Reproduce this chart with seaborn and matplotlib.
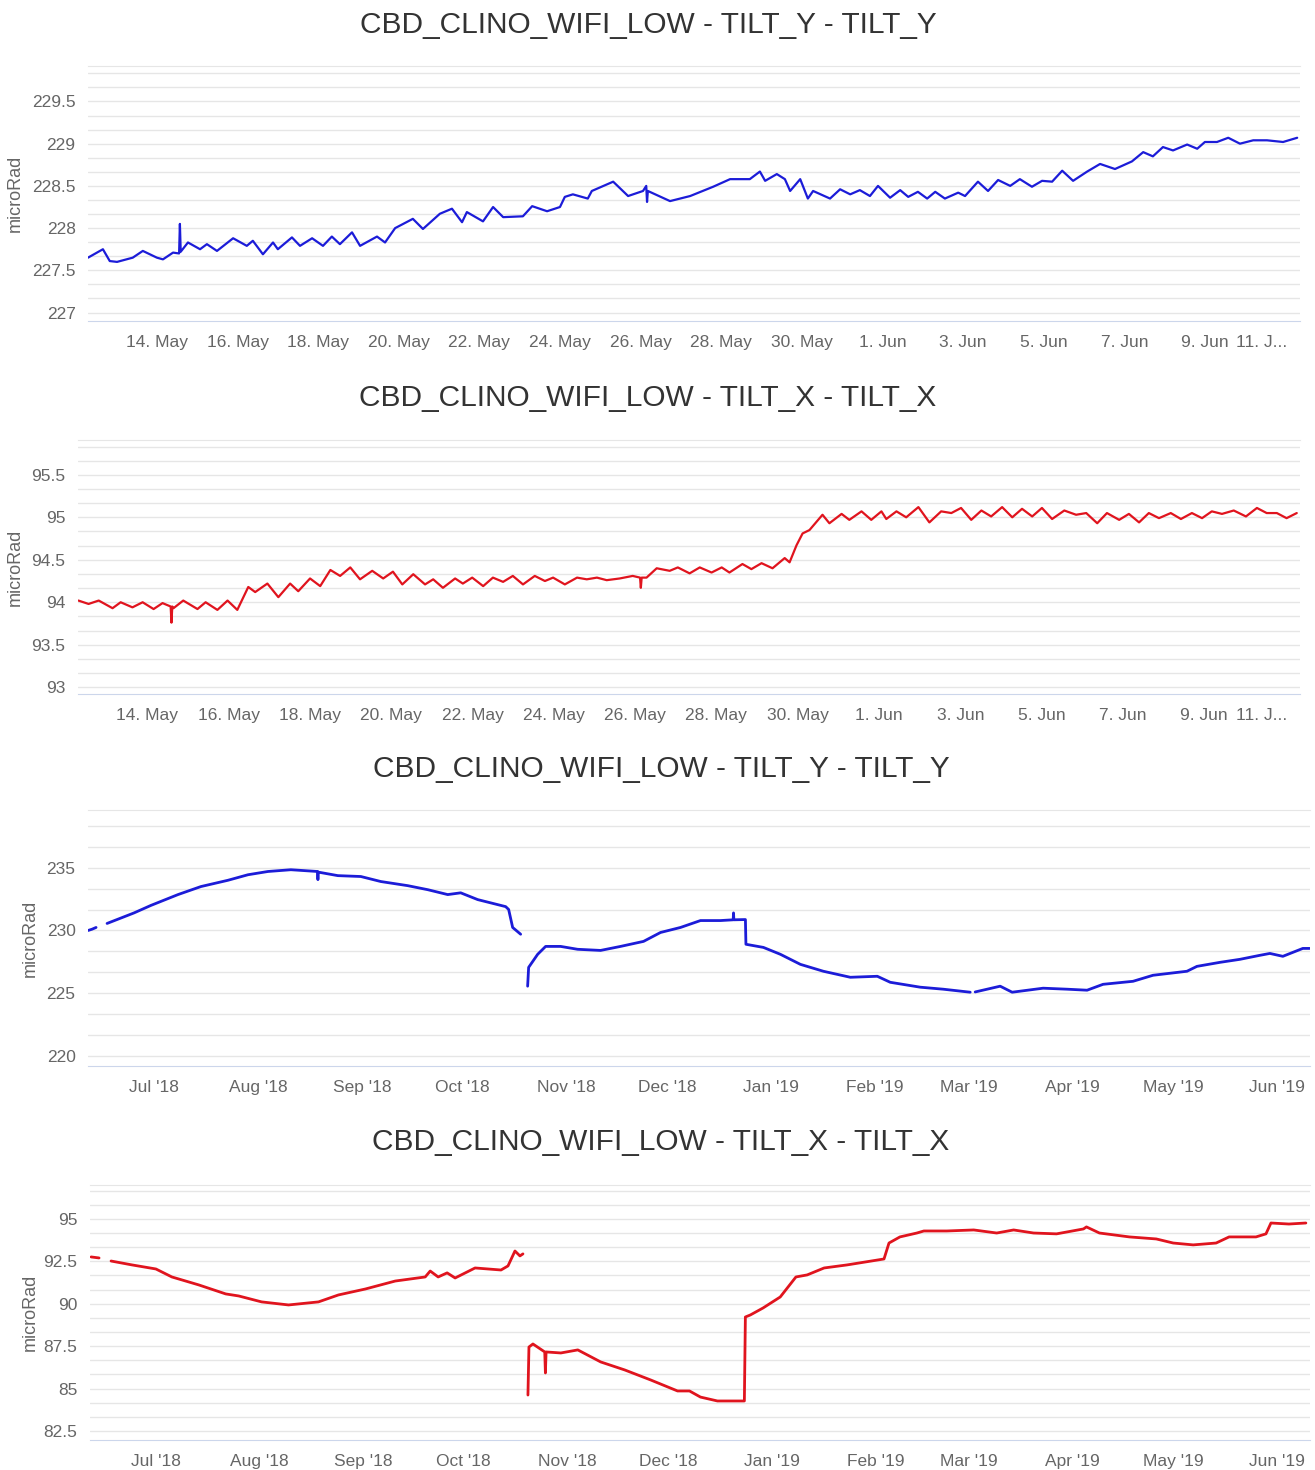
import pandas as pd
import seaborn as sns
import matplotlib.pyplot as plt
from matplotlib.ticker import MultipleLocator, FuncFormatter
from matplotlib.transforms import ScaledTranslation

TITLE_Y = "CBD_CLINO_WIFI_LOW - TILT_Y - TILT_Y"
TITLE_X = "CBD_CLINO_WIFI_LOW - TILT_X - TILT_X"
BLUE = "#1c1cd8"
RED = "#e0141e"

# --- short window: days after 2019-05-12 00:00 ---
month_start = "2019-05-12"

p1_days = [0.29, 0.66, 0.83, 1.01, 1.40, 1.65, 2.00, 2.15, 2.40, 2.55, 2.57, 2.59, 2.77, 3.07, 3.24, 3.49,
           3.89, 4.23, 4.38, 4.63, 4.88, 5.00, 5.35, 5.55, 5.85, 6.12, 6.34, 6.54, 6.84, 7.04, 7.46, 7.66,
           7.91, 8.35, 8.60, 9.02, 9.32, 9.57, 9.69, 10.09, 10.34, 10.59, 11.08, 11.31, 11.68, 12.00,
           12.12, 12.32, 12.69, 12.79, 13.32, 13.69, 14.06, 14.14, 14.16, 14.18, 14.73, 15.23, 15.80,
           16.22, 16.71, 16.96, 17.09, 17.38, 17.58, 17.71, 17.96, 18.15, 18.28, 18.70, 18.95, 19.20,
           19.44, 19.69, 19.89, 20.19, 20.44, 20.64, 20.88, 21.11, 21.31, 21.55, 21.88, 22.05, 22.37,
           22.62, 22.87, 23.17, 23.41, 23.71, 23.96, 24.21, 24.46, 24.73, 25.08, 25.40, 25.77, 26.19,
           26.47, 26.71, 26.96, 27.21, 27.56, 27.81, 28.00, 28.30, 28.58, 28.87, 29.20, 29.54, 29.94, 30.29]
p1_vals = [227.65, 227.75, 227.61, 227.60, 227.65, 227.73, 227.65, 227.63, 227.71, 227.70, 228.05, 227.72,
           227.83, 227.75, 227.81, 227.73, 227.88, 227.79, 227.85, 227.69, 227.83, 227.75, 227.89, 227.79,
           227.88, 227.79, 227.90, 227.81, 227.95, 227.79, 227.90, 227.83, 228.00, 228.11, 227.99, 228.17,
           228.23, 228.07, 228.19, 228.08, 228.25, 228.13, 228.14, 228.26, 228.20, 228.25, 228.37, 228.40,
           228.35, 228.44, 228.55, 228.38, 228.44, 228.50, 228.31, 228.44, 228.32, 228.38, 228.49, 228.58,
           228.58, 228.67, 228.56, 228.64, 228.58, 228.44, 228.58, 228.35, 228.44, 228.35, 228.46, 228.40,
           228.45, 228.38, 228.50, 228.36, 228.45, 228.37, 228.43, 228.35, 228.43, 228.35, 228.42, 228.38,
           228.55, 228.44, 228.57, 228.50, 228.58, 228.49, 228.56, 228.55, 228.68, 228.56, 228.67, 228.76,
           228.70, 228.79, 228.90, 228.85, 228.96, 228.92, 228.99, 228.94, 229.02, 229.02, 229.07, 229.00,
           229.04, 229.04, 229.02, 229.07]

p2_days = [0.30, 0.55, 0.80, 1.14, 1.34, 1.63, 1.88, 2.15, 2.37, 2.57, 2.59, 2.61, 2.64, 2.88, 3.23, 3.43,
           3.72, 3.97, 4.21, 4.48, 4.65, 4.95, 5.22, 5.51, 5.71, 6.00, 6.25, 6.50, 6.74, 6.99, 7.23, 7.53,
           7.80, 8.04, 8.27, 8.54, 8.83, 9.03, 9.27, 9.57, 9.76, 9.99, 10.26, 10.50, 10.75, 10.99, 11.24,
           11.53, 11.78, 11.98, 12.27, 12.57, 12.81, 13.06, 13.30, 13.62, 13.94, 14.12, 14.14, 14.16,
           14.28, 14.53, 14.85, 15.05, 15.34, 15.59, 15.88, 16.13, 16.32, 16.64, 16.86, 17.11, 17.38,
           17.68, 17.80, 17.97, 18.12, 18.29, 18.61, 18.78, 19.08, 19.27, 19.57, 19.81, 20.06, 20.18,
           20.43, 20.67, 20.97, 21.24, 21.53, 21.78, 22.02, 22.27, 22.52, 22.76, 23.03, 23.28, 23.52,
           23.77, 24.01, 24.26, 24.56, 24.85, 25.10, 25.37, 25.61, 25.91, 26.15, 26.40, 26.64, 26.89,
           27.18, 27.43, 27.70, 27.95, 28.19, 28.44, 28.73, 29.03, 29.30, 29.54, 29.79, 30.03, 30.28]
p2_vals = [94.02, 93.98, 94.02, 93.93, 94.00, 93.94, 94.00, 93.92, 93.99, 93.95, 93.76, 93.95, 93.93, 94.02,
           93.92, 94.00, 93.91, 94.02, 93.91, 94.18, 94.12, 94.22, 94.06, 94.22, 94.13, 94.28, 94.19, 94.38,
           94.31, 94.41, 94.27, 94.37, 94.28, 94.36, 94.21, 94.33, 94.21, 94.27, 94.17, 94.28, 94.22, 94.29,
           94.19, 94.29, 94.24, 94.31, 94.21, 94.31, 94.25, 94.29, 94.21, 94.29, 94.27, 94.29, 94.26, 94.28,
           94.31, 94.29, 94.17, 94.29, 94.29, 94.40, 94.37, 94.41, 94.34, 94.41, 94.35, 94.41, 94.35, 94.45,
           94.39, 94.46, 94.40, 94.52, 94.47, 94.67, 94.81, 94.85, 95.03, 94.93, 95.04, 94.97, 95.07, 94.97,
           95.07, 94.98, 95.07, 95.00, 95.12, 94.94, 95.07, 95.05, 95.11, 94.97, 95.08, 95.01, 95.12, 95.00,
           95.10, 95.01, 95.11, 94.98, 95.08, 95.03, 95.05, 94.93, 95.05, 94.97, 95.04, 94.94, 95.05, 94.99,
           95.05, 94.98, 95.05, 94.99, 95.07, 95.04, 95.08, 95.01, 95.11, 95.05, 95.05, 94.99, 95.05]

short_xlim = (0.29, 30.36)
short_ticks = ["2019-05-14", "2019-05-16", "2019-05-18", "2019-05-20", "2019-05-22", "2019-05-24",
               "2019-05-26", "2019-05-28", "2019-05-30", "2019-06-01", "2019-06-03", "2019-06-05",
               "2019-06-07", "2019-06-09", "2019-06-11"]
short_labels = ["14. May", "16. May", "18. May", "20. May", "22. May", "24. May", "26. May", "28. May",
                "30. May", "1. Jun", "3. Jun", "5. Jun", "7. Jun", "9. Jun", "11. J..."]

# --- long window: days after 2018-06-11 00:00, seg = separate line pieces ---
year_start = "2018-06-11"

p3_seg = [0] * 3 + [1] * 25 + [2] * 28 + [3] * 18
p3_days = [0.33, 1.5, 2.71,
           5.99, 14.04, 19.1, 27.15, 34.0, 42.06, 48.02, 53.98, 60.83, 68.8, 68.9, 69.0, 74.84, 81.7,
           87.66, 95.71, 101.67, 107.63, 111.5, 116.57, 121.34, 124.92, 125.81, 127.0, 129.39,
           131.47, 131.77, 134.46, 136.84, 141.31, 146.38, 153.23, 159.2, 166.05, 171.12, 177.08, 183.04,
           189.0, 192.8, 192.9, 193.0, 196.45, 196.6, 201.82, 206.89, 212.85, 219.7, 227.75, 235.8,
           239.67, 248.61, 255.47, 263.52,
           265.0, 272.46, 276.03, 285.28, 292.43, 298.39, 303.16, 312.1, 318.06, 328.19, 331.17, 338.03,
           343.99, 349.95, 352.93, 356.8, 362.76, 364.8]
p3_vals = [230.0, 230.1, 230.24,
           230.56, 231.4, 232.0, 232.86, 233.5, 234.0, 234.44, 234.7, 234.84, 234.7, 234.05, 234.65,
           234.37, 234.3, 233.9, 233.57, 233.25, 232.86, 233.0, 232.46, 232.14, 231.9, 231.67, 230.24, 229.7,
           225.56, 227.06, 228.1, 228.73, 228.73, 228.5, 228.41, 228.73, 229.13, 229.84, 230.24, 230.79,
           230.79, 230.85, 231.4, 230.85, 230.87, 228.9, 228.65, 228.1, 227.3, 226.75, 226.27, 226.35,
           225.87, 225.48, 225.32, 225.08,
           225.1, 225.56, 225.08, 225.4, 225.32, 225.24, 225.71, 225.95, 226.43, 226.75, 227.14, 227.46,
           227.7, 228.02, 228.17, 227.94, 228.57, 228.57]

p4_seg = [0] * 2 + [1] * 24 + [2] * 49
p4_days = [0.63, 3.01,
           6.59, 12.85, 20.0, 24.77, 32.82, 40.86, 44.74, 51.59, 59.64, 68.58, 74.55, 82.59, 91.53, 100.48,
           101.97, 104.35, 107.03, 109.42, 115.38, 123.13, 125.22, 127.3, 128.79, 129.69,
           131.18, 131.48, 132.67, 136.2, 136.4, 136.6, 141.01, 146.08, 152.93, 160.09, 167.84, 175.89,
           179.46, 182.74, 187.81, 195.86, 196.16, 197.65, 201.43, 206.58, 211.27, 214.63, 219.7, 226.56,
           237.59, 239.08, 242.35, 247.42, 249.5, 256.36, 264.41, 271.27, 276.33, 282.29, 289.15, 297.2,
           298.09, 301.97, 310.91, 318.96, 324.02, 329.99, 336.84, 340.72, 348.76, 351.74, 353.23, 358.6,
           363.67]
p4_vals = [92.76, 92.70,
           92.52, 92.29, 92.05, 91.58, 91.11, 90.58, 90.46, 90.11, 89.93, 90.11, 90.52, 90.87, 91.34, 91.58,
           91.93, 91.58, 91.82, 91.52, 92.11, 91.99, 92.23, 93.11, 92.82, 92.94,
           84.62, 87.45, 87.63, 87.16, 85.92, 87.16, 87.1, 87.28, 86.57, 86.1, 85.51, 84.86,
           84.86, 84.5, 84.27, 84.27, 89.22, 89.34, 89.75, 90.4, 91.58, 91.7, 92.11, 92.29,
           92.64, 93.58, 93.94, 94.17, 94.29, 94.29, 94.35, 94.17, 94.35, 94.17, 94.12, 94.41,
           94.53, 94.17, 93.94, 93.82, 93.58, 93.47, 93.58, 93.94, 93.94, 94.12, 94.76, 94.70,
           94.76]

long_xlim = (0.3, 364.9)
long_ticks = ["2018-07-01", "2018-08-01", "2018-09-01", "2018-10-01", "2018-11-01", "2018-12-01",
              "2019-01-01", "2019-02-01", "2019-03-01", "2019-04-01", "2019-05-01", "2019-06-01"]
long_labels = ["Jul '18", "Aug '18", "Sep '18", "Oct '18", "Nov '18", "Dec '18", "Jan '19", "Feb '19",
               "Mar '19", "Apr '19", "May '19", "Jun '19"]

sns.set_style("white")
plt.rcParams["font.family"] = ["Liberation Sans", "DejaVu Sans"]

W, H = 1315, 1470
fig = plt.figure(figsize=(W / 100, H / 100), dpi=100)


def to_time(start, days):
    return pd.Timestamp(start) + pd.to_timedelta(pd.Series(days, dtype=float), unit="D")


def panel(box, title, title_pos, ylab_x, start, days, vals, seg, color, lw,
          ylim, ystep, xlim, ticks, labels, truncate_last=False):
    left, right, top, bottom = box
    ax = fig.add_axes([left / W, 1 - bottom / H, (right - left) / W, (bottom - top) / H])
    df = pd.DataFrame({"time": to_time(start, days), "value": vals, "seg": seg})
    sns.lineplot(data=df, x="time", y="value", units="seg", estimator=None, sort=False,
                 color=color, lw=lw, ax=ax)
    ax.set_xlim(pd.Timestamp(start) + pd.Timedelta(days=xlim[0]),
                pd.Timestamp(start) + pd.Timedelta(days=xlim[1]))
    ax.set_ylim(*ylim)
    ax.yaxis.set_major_locator(MultipleLocator(ystep))
    ax.yaxis.set_minor_locator(MultipleLocator(ystep / 3))
    ax.yaxis.set_major_formatter(FuncFormatter(lambda v, _: f"{v:g}"))
    ax.grid(axis="y", which="both", color="#e6e6e6", lw=1)
    ax.grid(axis="x", visible=False)
    ax.set_xticks(pd.to_datetime(ticks))
    ax.set_xticklabels(labels)
    ax.tick_params(axis="y", which="both", length=0, pad=9, labelsize=12.5, labelcolor="#666666")
    ax.tick_params(axis="x", length=6, width=1, color="#ccd6eb", pad=4, labelsize=12.5,
                   labelcolor="#666666")
    for s in ("left", "right"):
        ax.spines[s].set_visible(False)
    ax.spines["top"].set_color("#e6e6e6")
    ax.spines["bottom"].set_color("#ccd6eb")
    ax.set_xlabel("")
    ax.set_ylabel("")
    if truncate_last:
        lab = ax.get_xticklabels()[-1]
        lab.set_transform(lab.get_transform() + ScaledTranslation(-0.24, 0, fig.dpi_scale_trans))
    fig.text(title_pos[0] / W, 1 - title_pos[1] / H, title, ha="center", va="center",
             fontsize=21.5, color="#333333")
    fig.text(ylab_x / W, 1 - (top + bottom) / 2 / H, "microRad", rotation=90, ha="center",
             va="center", fontsize=13, color="#666666")
    return ax


panel((88, 1300, 66, 321), TITLE_Y, (648, 25), 15, month_start, p1_days, p1_vals,
      [0] * len(p1_days), BLUE, 1.6, (226.9, 229.92), 0.5, short_xlim, short_ticks, short_labels,
      truncate_last=True)
panel((78, 1300, 440, 694), TITLE_X, (648, 398), 15, month_start, p2_days, p2_vals,
      [0] * len(p2_days), RED, 1.6, (92.92, 95.91), 0.5, short_xlim, short_ticks, short_labels,
      truncate_last=True)
panel((88, 1310, 810, 1066), TITLE_Y, (661, 769), 30, year_start, p3_days, p3_vals,
      p3_seg, BLUE, 2.0, (219.2, 239.6), 5, long_xlim, long_ticks, long_labels)
panel((90, 1310, 1185, 1440), TITLE_X, (661, 1142), 30, year_start, p4_days, p4_vals,
      p4_seg, RED, 2.0, (81.97, 97.0), 2.5, long_xlim, long_ticks, long_labels)

fig.savefig("out.png", dpi=100, facecolor="white")
